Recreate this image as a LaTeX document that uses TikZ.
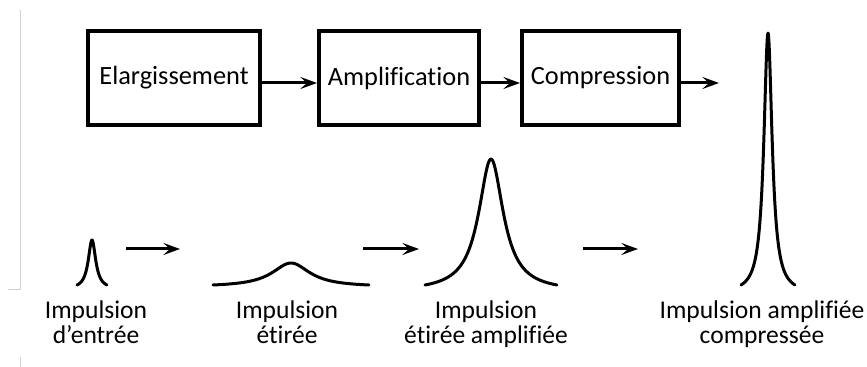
\documentclass[tikz,border=0pt]{standalone}
\usepackage{fontspec}
\setmainfont{Carlito}[Ligatures = NoCommon]
\usetikzlibrary{arrows.meta}

\begin{document}
\begin{tikzpicture}[
  box/.style = {draw, line width = 0.12cm, minimum height = 2.82cm, inner sep = 0pt,
    font = \fontsize{22.5}{26}\selectfont},
  flow/.style = {-{Stealth[length = 0.5cm, width = 0.36cm, inset = 0.2cm]}, line width = 0.09cm},
  pulse/.style = {line width = 0.09cm, line cap = round, line join = round},
  caption/.style = {align = center, anchor = north, inner sep = 0pt,
    font = \fontsize{21.8}{21}\selectfont}
]
\useasboundingbox (0, 0) rectangle (26.01, 11.01);
% margin marks
\draw [color = gray!35, line width = 0.03cm] (0.6, 10.71) -- (0.6, 2.31) -- (0.24, 2.31);
\draw [color = gray!35, line width = 0.03cm] (0.6, 0.3) -- (0.6, 0);
% chain
\node (elarg) [box, minimum width = 5.16cm] at (5.22, 8.67) {Elargissement};
\node (ampli) [box, minimum width = 4.80cm] at (11.97, 8.67) {Amplification};
\node (compr) [box, minimum width = 4.71cm] at (18.015, 8.67) {Compression};
\coordinate (sortie) at (21.57, 8.52);
\draw [flow] ([yshift = -0.15cm]elarg.east) -- ([yshift = -0.15cm]ampli.west);
\draw [flow] ([yshift = -0.15cm]ampli.east) -- ([yshift = -0.15cm]compr.west);
\draw [flow] ([yshift = -0.15cm]compr.east) -- (sortie);
% pulses
\draw [pulse] plot [domain = 2.31:3.21, samples = 150]
  (\x, {2.46 + 1.35*(1/(1+((\x-2.76)/0.135)^2) - 0.0826)/(1-0.0826)});
\draw [pulse] plot [domain = 6.39:11.07, samples = 150]
  (\x, {2.46 + 0.66*(1/(1+((\x-8.73)/0.69)^2) - 0.08)/(1-0.08)});
\draw [pulse] plot [domain = 12.75:16.71, samples = 150]
  (\x, {2.46 + 3.78*(1/(1+((\x-14.73)/0.45)^2) - 0.0491)/(1-0.0491)});
\draw [pulse] plot [domain = 22.23:23.85, samples = 200]
  (\x, {2.46 + 7.56*(1/(1+((\x-23.04)/0.15)^2) - 0.0332)/(1-0.0332)});
\coordinate (p1) at (3.78, 3.54);
\coordinate (q1) at (5.40, 3.54);
\coordinate (p2) at (10.89, 3.54);
\coordinate (q2) at (12.57, 3.54);
\coordinate (p3) at (17.49, 3.54);
\coordinate (q3) at (19.14, 3.54);
\draw [flow] (p1) -- (q1);
\draw [flow] (p2) -- (q2);
\draw [flow] (p3) -- (q3);
% labels
\node (entree) [caption] at (2.88, 1.99) {Impulsion\\d’entrée};
\node (etiree) [caption] at (8.61, 1.99) {Impulsion\\étirée};
\node (amplif) [caption] at (14.58, 1.99) {Impulsion\\étirée amplifiée};
\node (compri) [caption] at (22.86, 1.99) {Impulsion amplifiée\\compressée};
\end{tikzpicture}
\end{document}
